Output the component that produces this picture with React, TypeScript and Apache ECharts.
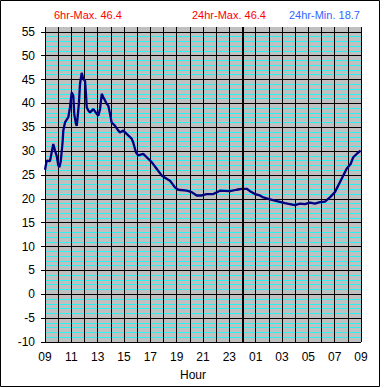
import React, { useEffect, useRef } from "react";
import * as echarts from "echarts";

// Hours after 09:00
const hours = [
  0.0, 0.13, 0.38, 0.63, 0.76, 0.89, 1.01, 1.09, 1.19, 1.27, 1.34, 1.39, 1.52, 1.77, 1.9, 2.03, 2.15,
  2.22, 2.35, 2.41, 2.48, 2.58, 2.66, 2.79, 2.91, 3.04, 3.11, 3.17, 3.29, 3.42, 3.67, 3.93, 4.05,
  4.18, 4.31, 4.43, 4.56, 4.68, 4.81, 4.94, 5.06, 5.32, 5.57, 5.69, 5.95, 6.2, 6.58, 6.7, 6.91,
  7.08, 7.46, 7.84, 8.1, 8.48, 8.86, 9.24, 9.49, 9.87, 10.12, 10.76, 11.14, 11.52, 11.9, 12.28,
  12.78, 13.29, 14.05, 14.56, 14.94, 15.32, 15.57, 15.95, 16.32, 16.58, 16.96, 17.46, 18.22,
  18.98, 19.36, 19.74, 20.12, 20.5, 20.88, 21.26, 21.64, 22.02, 22.53, 22.91, 23.21, 23.41,
  23.67, 23.97,
];
const temps = [
  26.1, 28.0, 27.9, 31.5, 30.1, 29.0, 27.0, 26.6, 27.7, 30.0, 32.0, 34.3, 36.0, 37.1, 39.2, 42.3, 41.6,
  37.8, 35.7, 35.3, 37.1, 40.2, 44.1, 46.4, 45.1, 44.7, 42.0, 39.2, 38.5, 38.1, 38.8, 37.8, 37.4,
  38.8, 42.0, 41.3, 40.6, 39.9, 39.5, 37.8, 36.0, 35.3, 34.3, 33.9, 34.3, 33.6, 32.6, 31.8, 29.7,
  29.1, 29.4, 28.4, 27.7, 26.3, 24.9, 24.2, 23.8, 22.4, 21.9, 21.7, 21.4, 20.7, 20.7, 21.0,
  21.0, 21.7, 21.6, 21.9, 22.1, 22.1, 21.6, 21.0, 20.7, 20.3, 20.0, 19.6, 19.1,
  18.7, 19.0, 18.9, 19.2, 19.0, 19.3, 19.4, 20.3, 21.4, 24.2, 26.3, 27.3, 28.7,
  29.4, 30.1,
];

const headerTexts = ["6hr-Max. 46.4", "24hr-Max. 46.4", "24hr-Min. 18.7"];
const axisTitle = "Hour";
const startHour = 9;
const midnightOffset = 15;

export default function App() {
  const ref = useRef<HTMLDivElement>(null);
  useEffect(() => {
    if (!ref.current) return;
    const chart = echarts.init(ref.current, null, { renderer: "svg" });
    const font = "'Liberation Sans', Arial, sans-serif";
    chart.setOption({
      animation: false,
      backgroundColor: "#ffffff",
      grid: {
        left: 45,
        right: 24,
        top: 27,
        bottom: 46,
        show: true,
        backgroundColor: "#c0c0c0",
        borderWidth: 0,
      },
      xAxis: {
        type: "value",
        min: 0,
        max: 24,
        interval: 1,
        z: 1,
        axisLine: { show: false },
        axisTick: { show: false },
        axisLabel: {
          margin: 9,
          fontSize: 12,
          fontFamily: font,
          color: "#000",
          showMaxLabel: true,
          formatter: (v: number) =>
            v % 2 === 0 ? String((startHour + v) % 24).padStart(2, "0") : "",
        },
        splitLine: { show: true, lineStyle: { color: "#000", width: 1 } },
      },
      yAxis: [
        {
          type: "value",
          min: -10,
          max: 56,
          interval: 5,
          z: 1,
          axisLine: { show: false },
          axisTick: { show: true, length: 4, lineStyle: { color: "#000" } },
          axisLabel: {
            margin: 10,
            fontSize: 12,
            fontFamily: font,
            color: "#000",
            showMaxLabel: false,
            formatter: (v: number) => (v % 5 === 0 ? String(v) : ""),
          },
          splitLine: {
            show: true,
            showMaxLine: false,
            lineStyle: { color: "#000", width: 1 },
          },
        },
        {
          type: "value",
          min: -10,
          max: 56,
          interval: 1,
          z: 0,
          axisLine: { show: false },
          axisTick: { show: false },
          axisLabel: { show: false },
          splitLine: {
            show: true,
            showMaxLine: false,
            lineStyle: { color: "#00ffff", width: 1, opacity: 0.8 },
          },
        },
      ],
      series: [
        {
          type: "line",
          yAxisIndex: 0,
          data: hours.map((h, i) => [h, temps[i]]),
          showSymbol: false,
          lineStyle: { color: "#000080", width: 2.3 },
          z: 3,
          markLine: {
            silent: true,
            symbol: "none",
            label: { show: false },
            lineStyle: { color: "#000", width: 2, type: "solid" },
            data: [{ xAxis: midnightOffset }],
          },
        },
      ],
      graphic: [
        {
          type: "rect",
          shape: { x: 0.5, y: 0.5, width: 379, height: 386 },
          style: { fill: "none", stroke: "#000", lineWidth: 1 },
          silent: true,
        },
        {
          type: "text",
          x: 54,
          y: 15,
          style: {
            text: headerTexts[0],
            fill: "#ff0000",
            font: `11px ${font}`,
            textVerticalAlign: "middle",
          },
        },
        {
          type: "text",
          x: 192,
          y: 15,
          style: {
            text: headerTexts[1],
            fill: "#ff0000",
            font: `11px ${font}`,
            textVerticalAlign: "middle",
          },
        },
        {
          type: "text",
          x: 289,
          y: 15,
          style: {
            text: headerTexts[2],
            fill: "#3366ff",
            font: `11px ${font}`,
            textVerticalAlign: "middle",
          },
        },
        {
          type: "text",
          x: 193,
          y: 375,
          style: {
            text: axisTitle,
            fill: "#000",
            font: `12px ${font}`,
            textAlign: "center",
            textVerticalAlign: "middle",
          },
        },
      ],
    });
    return () => chart.dispose();
  }, []);
  return (
    <div
      ref={ref}
      style={{ position: "fixed", left: 0, top: 0, width: 385, height: 388 }}
    />
  );
}
